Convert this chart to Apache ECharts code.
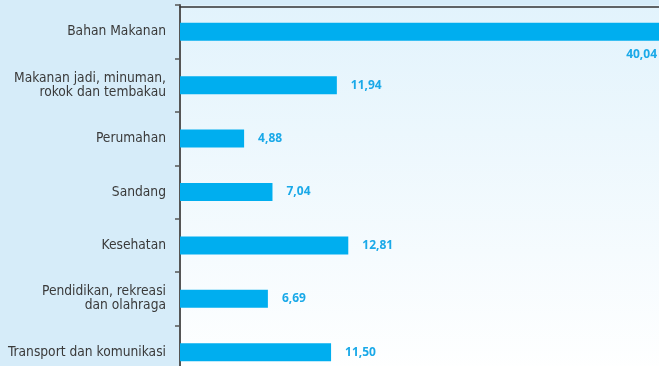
<!DOCTYPE html>
<html>
<head>
<meta charset="utf-8">
<script src="https://cdn.jsdelivr.net/npm/echarts@6/dist/echarts.min.js"></script>
<style>
html,body{margin:0;padding:0;background:#d6ecf9;overflow:hidden;width:659px;height:366px;}
#chart{width:720px;height:390px;}
</style>
</head>
<body>
<div id="chart"></div>
<script>
var categories = [
  "Bahan Makanan",
  "Makanan jadi, minuman,\nrokok dan tembakau",
  "Perumahan",
  "Sandang",
  "Kesehatan",
  "Pendidikan, rekreasi\ndan olahraga",
  "Transport dan komunikasi"
];
var values = [40.04, 11.94, 4.88, 7.04, 12.81, 6.69, 11.50];

var chart = echarts.init(document.getElementById('chart'));

var seriesData = values.map(function (v, i) {
  var item = { value: v };
  if (i === 0) {
    item.label = { position: [477, 32], align: 'right', verticalAlign: 'middle' };
  }
  return item;
});

chart.setOption({
  backgroundColor: '#d6ecf9',
  animation: false,
  grid: {
    left: 180,
    top: 5,
    width: 526,
    height: 374,
    show: true,
    borderWidth: 0,
    backgroundColor: {
      type: 'linear', x: 0, y: 0, x2: 0, y2: 1,
      colorStops: [
        { offset: 0, color: '#e2f3fc' },
        { offset: 1, color: '#ffffff' }
      ]
    }
  },
  xAxis: {
    type: 'value',
    position: 'top',
    offset: -1.5,
    min: 0,
    max: 40.04,
    axisLine: { show: true, lineStyle: { color: '#333', width: 1.5 } },
    axisTick: { show: false },
    axisLabel: { show: false },
    splitLine: { show: false }
  },
  yAxis: {
    type: 'category',
    inverse: true,
    data: categories,
    axisLine: { show: true, lineStyle: { color: '#555', width: 2 } },
    axisTick: { show: true, length: 5, lineStyle: { color: '#555', width: 1.5 } },
    axisLabel: {
      margin: 14,
      color: '#3a3a3a',
      fontFamily: 'DejaVu Sans Condensed',
      fontSize: 13.7,
      lineHeight: 14,
      align: 'right'
    }
  },
  series: [{
    type: 'bar',
    data: seriesData,
    barWidth: 18,
    itemStyle: { color: '#00aeef' },
    label: {
      show: true,
      position: 'right',
      distance: 14,
      color: '#1aa9e8',
      fontFamily: 'Open Sans',
      fontWeight: 'bold',
      fontSize: 12,
      formatter: function (p) { return p.value.toFixed(2).replace('.', ','); }
    }
  }]
});
</script>
</body>
</html>
